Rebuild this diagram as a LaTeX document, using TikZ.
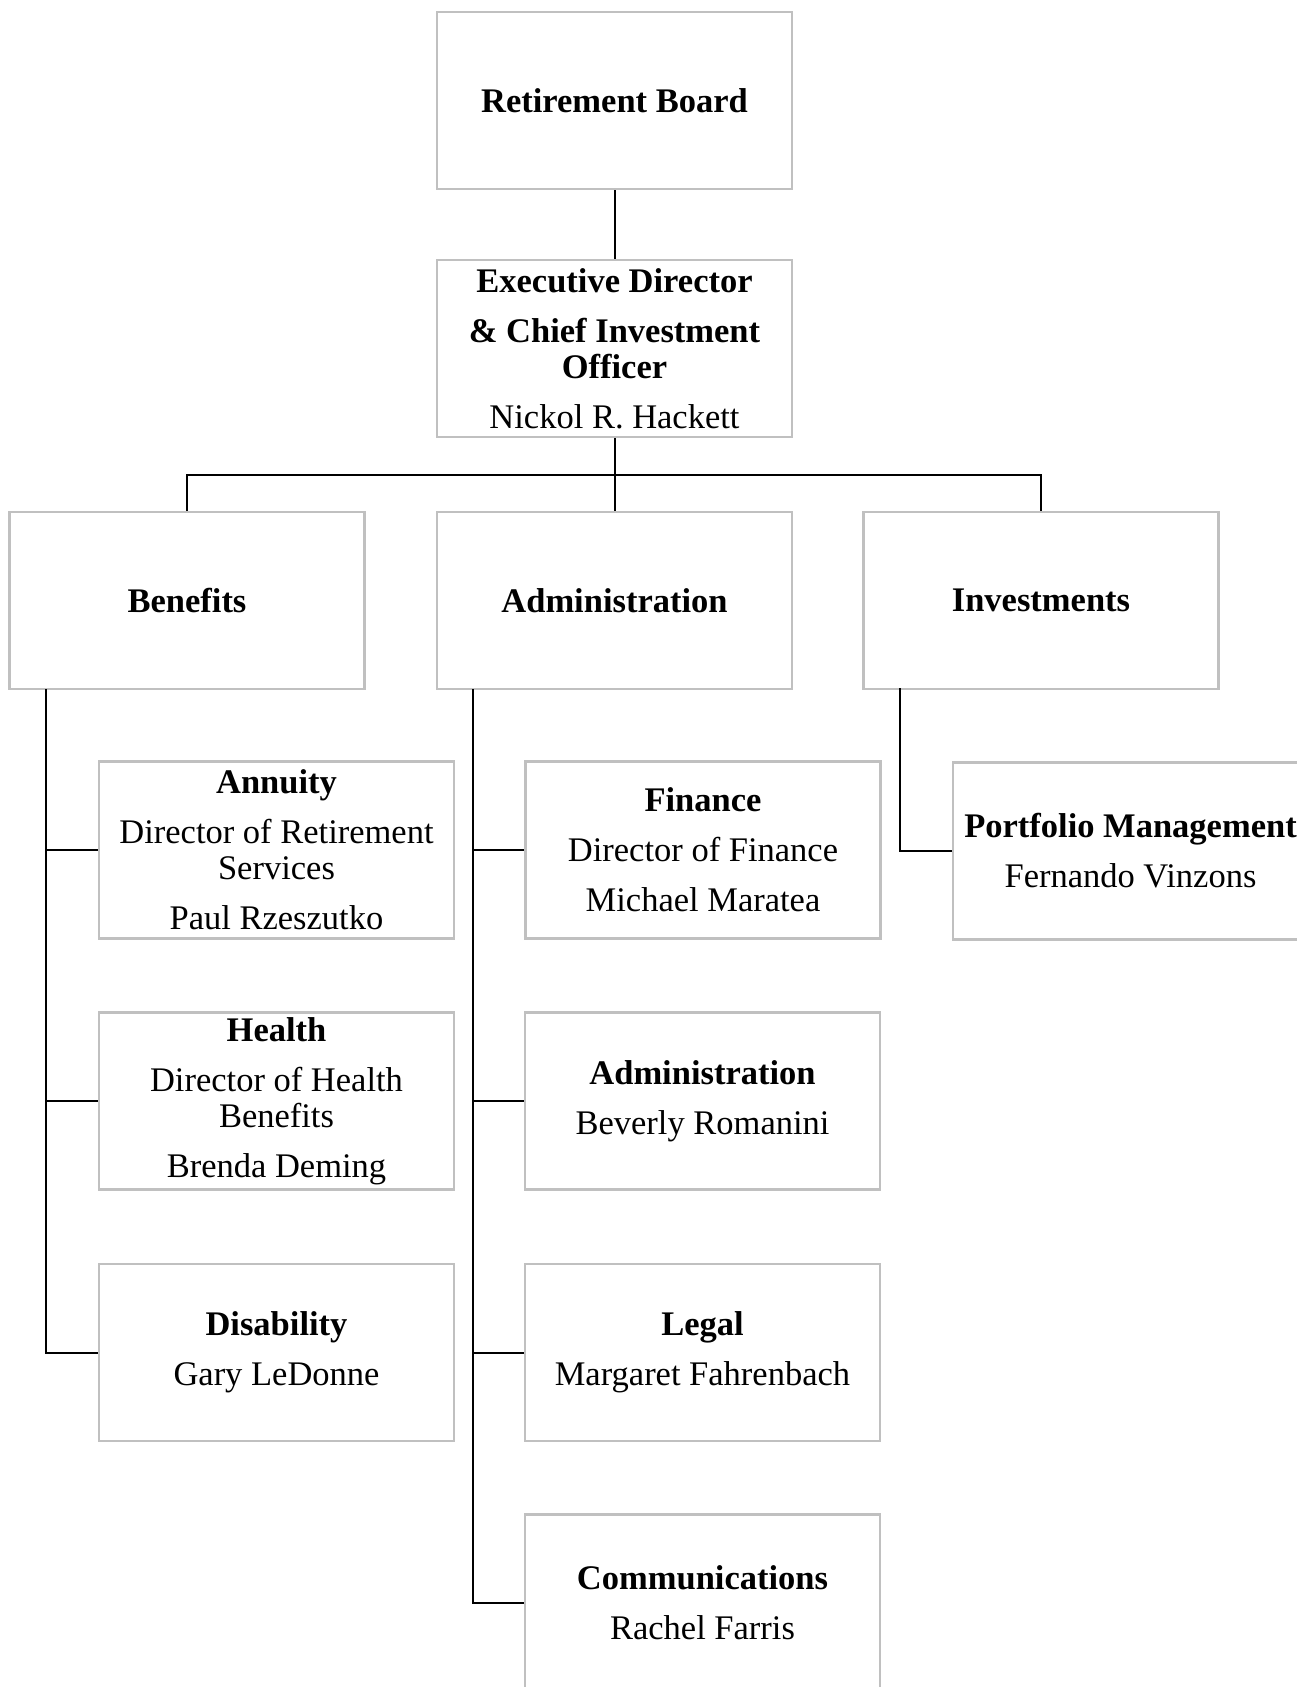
\documentclass[tikz,border=0pt]{standalone}
\usepackage{fontspec}
\setmainfont{Liberation Serif}
\definecolor{boxgray}{RGB}{192,192,192}
\tikzset{
  orgbox/.style={draw=boxgray, line width=2.5pt, fill=white, minimum width=355pt, minimum height=177pt,
    inner sep=0pt, align=center, font=\fontsize{34.5pt}{36pt}\selectfont},
  conn/.style={line width=2pt, black}
}
\begin{document}
\begin{tikzpicture}[x=1pt,y=-1pt]
\useasboundingbox (0,0) rectangle (1297,1687);
\fill[white] (0,0) rectangle (1297,1687);
\clip (0,0) rectangle (1297,1687);
% top
\node[orgbox] (rb) at (614.5,100.5) {\textbf{Retirement Board}};
\node[orgbox] (ex) at (614.5,348.5) {\textbf{Executive Director}\\[14pt]\textbf{\& Chief Investment}\\\textbf{Officer}\\[14pt]Nickol R. Hackett};
% departments
\node[orgbox] (ben) at (187,600.5) {\textbf{Benefits}};
\node[orgbox] (adm) at (614.5,600.5) {\textbf{Administration}};
\node[orgbox] (inv) at (1041,600.5) {\textbf{Investments}};
% benefits children
\node[orgbox] (ann) at (276.5,850) {\textbf{Annuity}\\[14pt]Director of Retirement\\Services\\[14pt]Paul Rzeszutko};
\node[orgbox] (hea) at (276.5,1101) {\textbf{Health}\\[14pt]Director of Health\\Benefits\\[14pt]Brenda Deming};
\node[orgbox] (dis) at (276.5,1352.5) {\textbf{Disability}\\[14pt]Gary LeDonne};
% administration children
\node[orgbox] (fin) at (703,850) {\textbf{Finance}\\[14pt]Director of Finance\\[14pt]Michael Maratea};
\node[orgbox] (adm2) at (702.5,1101) {\textbf{Administration}\\[14pt]Beverly Romanini};
\node[orgbox] (leg) at (702.5,1352.5) {\textbf{Legal}\\[14pt]Margaret Fahrenbach};
\node[orgbox] (com) at (702.5,1603) {\textbf{Communications}\\[14pt]Rachel Farris};
% investments child
\node[orgbox] (pm) at (1130.5,851) {\textbf{Portfolio Management}\\[14pt]Fernando Vinzons};
% connectors
\coordinate (bus) at (614.5,475);
\coordinate (bt) at (46,689);
\coordinate (at) at (473,689);
\coordinate (it) at (900,688);
\draw[conn] (rb.south) -- (ex.north);
\draw[conn] (ex.south) -- (bus);
\draw[conn] (ben.north) |- (bus) -| (inv.north);
\draw[conn] (bus) -- (adm.north);
\draw[conn] (bt) |- (ann.west);
\draw[conn] (bt) |- (hea.west);
\draw[conn] (bt) |- (dis.west);
\draw[conn] (at) |- (fin.west);
\draw[conn] (at) |- (adm2.west);
\draw[conn] (at) |- (leg.west);
\draw[conn] (at) |- (com.west);
\draw[conn] (it) |- (pm.west);
\end{tikzpicture}
\end{document}
